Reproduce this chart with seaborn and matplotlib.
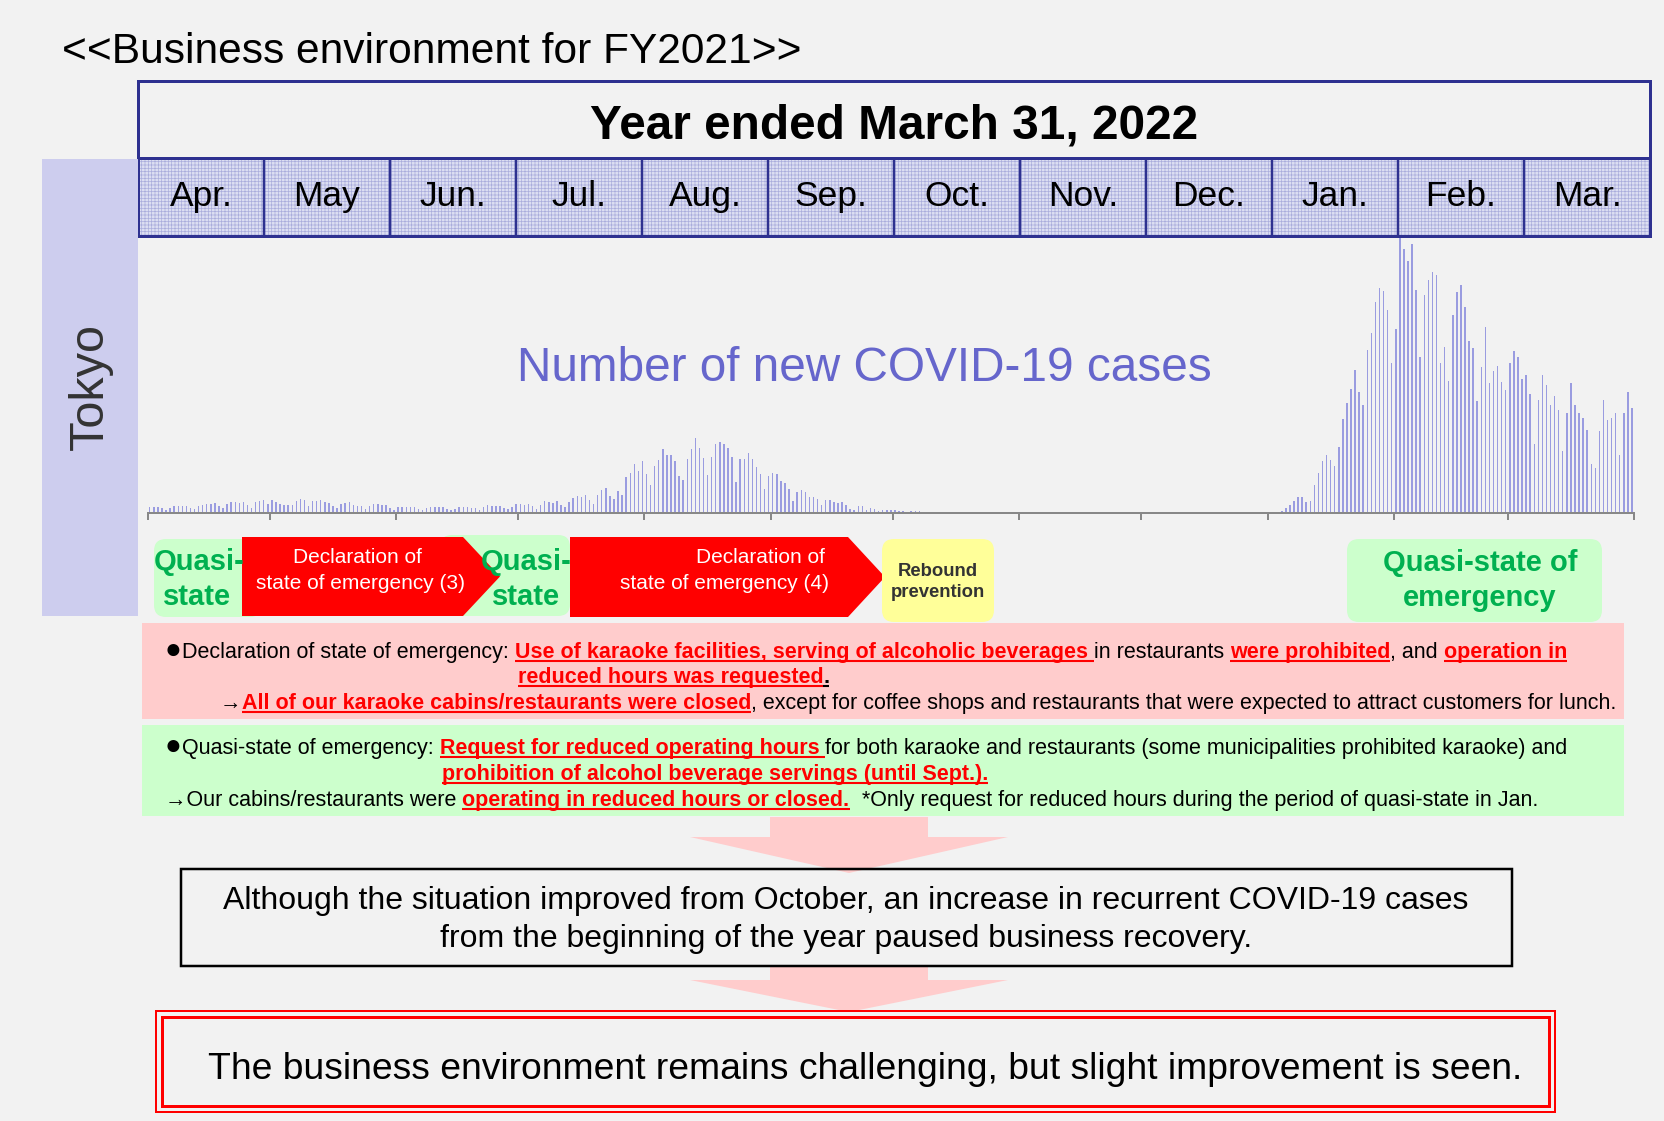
import numpy as np
import pandas as pd
import matplotlib
matplotlib.use("Agg")
import matplotlib.pyplot as plt
import seaborn as sns
from matplotlib.patches import Rectangle, Polygon, FancyBboxPatch

# ---------------- data (daily new COVID-19 cases in Tokyo, FY2021) ----------------
months = ["Apr.", "May", "Jun.", "Jul.", "Aug.", "Sep.", "Oct.", "Nov.", "Dec.", "Jan.", "Feb.", "Mar."]
cases_apr = [475, 440, 446, 355, 249, 399, 555, 545, 537, 570, 421, 306, 510, 591, 729, 667, 759, 543, 405, 711,
             843, 861, 759, 876, 635, 425, 828, 925, 1027, 698]
cases_may = [1050, 879, 708, 609, 621, 591, 907, 1121, 1032, 573, 925, 969, 1010, 854, 772, 542, 419, 732, 766, 843,
             618, 569, 535, 340, 538, 743, 684, 614, 629, 431, 260]
cases_jun = [471, 487, 508, 472, 436, 351, 235, 369, 440, 439, 435, 467, 304, 209, 337, 501, 452, 453, 388, 376,
             236, 435, 619, 570, 562, 534, 386, 317, 476, 714]
cases_jul = [673, 660, 716, 518, 342, 593, 920, 896, 822, 950, 614, 502, 830, 1149, 1308, 1271, 1410, 1008, 727, 1387,
             1832, 1979, 1359, 1128, 1763, 1429, 2848, 3177, 3865, 3300, 4058]
cases_aug = [3058, 2195, 3709, 4166, 5042, 4515, 4566, 4066, 2884, 2612, 4200, 4989, 5908, 5094, 4295, 2962, 4377,
             5386, 5534, 5405, 5074, 4392, 2447, 4220, 4228, 4704, 4227, 3581, 3081, 1915, 2909]
cases_sep = [3168, 3099, 2539, 2362, 1853, 968, 1629, 1834, 1675, 1242, 1273, 1067, 611, 1004, 1052, 831, 782, 862,
             617, 302, 253, 537, 531, 235, 382, 302, 154, 248, 267, 218]
cases_oct = [200, 196, 161, 87, 149, 144, 138, 82, 66, 60, 49, 77, 72, 62, 68, 50, 40, 29, 36, 41, 36, 26, 32, 19,
             17, 29, 36, 21, 22, 23, 22]
cases_nov = [9, 29, 18, 24, 25, 22, 21, 14, 21, 26, 25, 16, 27, 20, 6, 21, 15, 15, 24, 24, 13, 8, 7, 9, 26, 24, 16,
             12, 21, 12]
cases_dec = [11, 16, 17, 22, 20, 12, 17, 30, 15, 25, 28, 22, 15, 25, 23, 20, 22, 20, 16, 29, 32, 34, 37, 38, 37, 30,
             28, 46, 76, 64, 78]
cases_jan = [79, 84, 103, 151, 390, 641, 922, 1224, 1223, 871, 962, 2198, 3124, 4051, 4561, 4172, 3709, 5185, 7377,
             8638, 9699, 11227, 9468, 8503, 12813, 14086, 16538, 17631, 17433, 15895, 11751]
cases_feb = [14445, 21576, 20679, 19798, 21121, 17526, 12214, 17113, 18287, 18891, 18660, 11765, 13003, 10327, 15525,
             17330, 17864, 16131, 13516, 12931, 8794, 11442, 14567, 10169, 11117, 11542, 10300, 9614]
cases_mar = [11800, 12700, 12250, 10550, 10800, 9300, 5400, 8900, 10800, 10050, 8450, 9150, 8100, 4850, 7850, 10200,
             8450, 7850, 7450, 6500, 3850, 3500, 6450, 8850, 7300, 7450, 7850, 4550, 7850, 9500, 8250]

monthly = [cases_apr, cases_may, cases_jun, cases_jul, cases_aug, cases_sep,
           cases_oct, cases_nov, cases_dec, cases_jan, cases_feb, cases_mar]
cases = np.concatenate([np.array(m, dtype=float) for m in monthly])
month_len = [len(m) for m in monthly]
month_starts = np.concatenate([[0], np.cumsum(month_len)])
df = pd.DataFrame({"day": np.arange(len(cases)) + 0.5, "cases": cases})

# ---------------- figure ----------------
W, H, DPI = 1664, 1121, 100
BG = "#f2f2f2"
NAVY = "#2e3190"
RED = "#ff0000"
GREEN_FILL = "#ccffcc"
GREEN_TXT = "#00b050"

sns.set_theme(style="white")
plt.rcParams["font.family"] = ["Liberation Sans", "DejaVu Sans"]
plt.rcParams["hatch.linewidth"] = 0.5

fig = plt.figure(figsize=(W / DPI, H / DPI), dpi=DPI, facecolor=BG)
bg = fig.add_axes([0, 0, 1, 1], zorder=0)
bg.set_xlim(0, W)
bg.set_ylim(H, 0)
bg.axis("off")

PT = 0.72  # px -> pt

# ---------- title ----------
bg.text(62, 63, "<<Business environment for FY2021>>", fontsize=30.6, color="#000000",
        ha="left", va="baseline")

# ---------- year header ----------
bg.add_patch(Rectangle((138, 81), 1512, 77, facecolor=BG, edgecolor=NAVY, lw=3 * PT))
bg.text(894, 139, "Year ended March 31, 2022", fontsize=34.4, fontweight="bold",
        ha="center", va="baseline", color="#000000")

# ---------- month row ----------
cw = 126
for i, m in enumerate(months):
    cx0 = 138 + i * cw
    bg.add_patch(Rectangle((cx0, 158), cw, 78, facecolor="#dcdef2", edgecolor="#aaaddc",
                           hatch="+++++", lw=0))
    bg.text(cx0 + cw / 2, 206, m, fontsize=25.5, ha="center", va="baseline", color="#000000")
bg.add_patch(Rectangle((138, 158), 1512, 78, facecolor="none", edgecolor=NAVY, lw=3 * PT))
for i in range(1, 12):
    bg.plot([138 + i * cw] * 2, [158, 236], color=NAVY, lw=2.5 * PT, solid_capstyle="butt")

# ---------- Tokyo panel ----------
bg.add_patch(Rectangle((42, 159), 96, 457, facecolor="#cdcdee", edgecolor="none"))
bg.text(90, 387, "Tokyo", fontsize=35, rotation=90, ha="center", va="center", color="#333333")

# ---------- bar chart ----------
x0, x1 = 147.7, 1634
yb, yt = 513, 236
ax = fig.add_axes([x0 / W, 1 - yb / H, (x1 - x0) / W, (yb - yt) / H], zorder=2)
ax.patch.set_alpha(0)
sns.barplot(data=df, x="day", y="cases", native_scale=True, width=0.36, color="#9a9ce0",
            saturation=1, errorbar=None, linewidth=0, ax=ax)
ax.set_xlim(0, month_starts[-1])
ax.set_ylim(0, max(cases) * (yb - yt) / (yb - 238))
ax.set_xticks(month_starts)
ax.set_xticklabels([])
ax.set_yticks([])
ax.set_xlabel("")
ax.set_ylabel("")
for s in ["left", "right", "top"]:
    ax.spines[s].set_visible(False)
ax.spines["bottom"].set_color("#888888")
ax.spines["bottom"].set_linewidth(2 * PT)
ax.tick_params(axis="x", direction="out", length=7 * PT, width=2 * PT, color="#888888", bottom=True)

bg.text(864, 381, "Number of new COVID-19 cases", fontsize=34.4, color="#6666cc",
        ha="center", va="baseline", zorder=3)

# ---------- state row ----------
def rbox(xa, ya, xb, yb_, fc):
    bg.add_patch(FancyBboxPatch((xa, ya), xb - xa, yb_ - ya,
                                boxstyle="round,pad=0,rounding_size=12",
                                facecolor=fc, edgecolor="none"))

def pent(xa, xn, xt, ya, yb_):
    bg.add_patch(Polygon([(xa, ya), (xn, ya), (xt, (ya + yb_) / 2), (xn, yb_), (xa, yb_)],
                         closed=True, facecolor=RED, edgecolor="none"))

rbox(154, 539, 262, 617, GREEN_FILL)
rbox(440, 535, 570, 616, GREEN_FILL)
pent(242, 463, 500, 537, 616)
pent(570, 848, 885, 537, 617)
rbox(882, 539, 994, 622, "#ffff99")
rbox(1347, 539, 1602, 622, GREEN_FILL)

qkw = dict(fontsize=21, fontweight="bold", color=GREEN_TXT, ha="center", va="baseline")
bg.text(199, 570, "Quasi-", **qkw)
bg.text(197, 605, "state", **qkw)
bg.text(526, 570, "Quasi-", **qkw)
bg.text(526, 605, "state", **qkw)
bg.text(1480, 571, "Quasi-state of", **qkw)
bg.text(1480, 606, "emergency", **qkw)

dkw = dict(fontsize=15, color="white", ha="center", va="baseline")
bg.text(357, 563, "Declaration of", **dkw)
bg.text(360, 589, "state of emergency (3)", **dkw)
bg.text(760, 563, "Declaration of", **dkw)
bg.text(725, 589, "state of emergency (4)", **dkw)

rkw = dict(fontsize=13.3, fontweight="bold", color="#333333", ha="center", va="baseline")
bg.text(938, 576, "Rebound", **rkw)
bg.text(938, 597, "prevention", **rkw)

# ---------- explanation boxes ----------
bg.add_patch(Rectangle((142, 623), 1482, 96, facecolor="#ffcccc", edgecolor="none"))
bg.add_patch(Rectangle((142, 725), 1482, 91, facecolor=GREEN_FILL, edgecolor="none"))

renderer = fig.canvas.get_renderer()

def text_w(s, **kw):
    t1 = bg.text(0, 0, "|" + s + "|", **kw)
    w1 = t1.get_window_extent(renderer).width
    t1.remove()
    t2 = bg.text(0, 0, "||", **kw)
    w2 = t2.get_window_extent(renderer).width
    t2.remove()
    return w1 - w2

FS = 15.5

def rich(x, y, segs):
    starts = []
    for seg in segs:
        txt, color, bold, ul = seg[:4]
        size = seg[4] if len(seg) > 4 else FS
        kw = dict(fontsize=size, fontweight="bold" if bold else "normal", color=color)
        stripped = txt.lstrip(" ")
        lead = text_w(txt[: len(txt) - len(stripped)], **kw) if stripped != txt else 0.0
        starts.append(x + lead)
        bg.text(x + lead, y, stripped, ha="left", va="baseline", **kw)
        w = text_w(txt, **kw)
        if ul:
            bg.plot([x + lead, x + w], [y + 3, y + 3], color=color, lw=1.5, solid_capstyle="butt")
        x += w
    return starts

K = "#000000"
BUL = ("\u25cf", K, False, False, 20)
s1 = rich(165, 658, [
    BUL,
    ("Declaration of state of emergency: ", K, False, False),
    ("Use of karaoke facilities, serving of alcoholic beverages ", RED, True, True),
    ("in restaurants ", K, False, False),
    ("were prohibited", RED, True, True),
    (", and ", K, False, False),
    ("operation in", RED, True, True),
])
rich(s1[2] + 3, 683, [
    ("reduced hours was requested", RED, True, True),
    (".", K, True, True),
])
rich(220, 709, [
    ("\u2192", K, False, False),
    ("All of our karaoke cabins/restaurants were closed", RED, True, True),
    (", except for coffee shops and restaurants that were expected to attract customers for lunch.", K, False, False),
])

s2 = rich(165, 754, [
    BUL,
    ("Quasi-state of emergency: ", K, False, False),
    ("Request for reduced operating hours ", RED, True, True),
    ("for both karaoke and restaurants (some municipalities prohibited karaoke) and", K, False, False),
])
rich(s2[2] + 2, 780, [
    ("prohibition of alcohol beverage servings (until Sept.).", RED, True, True),
])
rich(165, 806, [
    ("\u2192Our cabins/restaurants were ", K, False, False),
    ("operating in reduced hours or closed.", RED, True, True),
    ("  *Only request for reduced hours during the period of quasi-state in Jan.", K, False, False),
])

# ---------- down arrows ----------
def down_arrow(ytop, yhead, ytip):
    bg.add_patch(Polygon([(770, ytop), (928, ytop), (928, yhead), (1008, yhead), (849, ytip),
                          (690, yhead), (770, yhead)], closed=True, facecolor="#ffcccc",
                         edgecolor="none"))

down_arrow(817, 837, 873)
down_arrow(967, 980, 1012)

# ---------- conclusion boxes ----------
bg.add_patch(Rectangle((181, 869), 1331, 97, facecolor="none", edgecolor="#000000", lw=2.5 * PT))
bg.text(846, 909, "Although the situation improved from October, an increase in recurrent COVID-19 cases",
        fontsize=23, ha="center", va="baseline", color="#000000")
bg.text(846, 947, "from the beginning of the year paused business recovery.",
        fontsize=23, ha="center", va="baseline", color="#000000")

bg.add_patch(Rectangle((156, 1011), 1399, 101, facecolor="none", edgecolor=RED, lw=2 * PT))
bg.add_patch(Rectangle((162, 1017), 1387, 89, facecolor="none", edgecolor=RED, lw=3 * PT))
bg.text(865, 1079, "The business environment remains challenging, but slight improvement is seen.",
        fontsize=26.8, ha="center", va="baseline", color="#000000")

fig.savefig("out.png", dpi=DPI, facecolor=BG)
